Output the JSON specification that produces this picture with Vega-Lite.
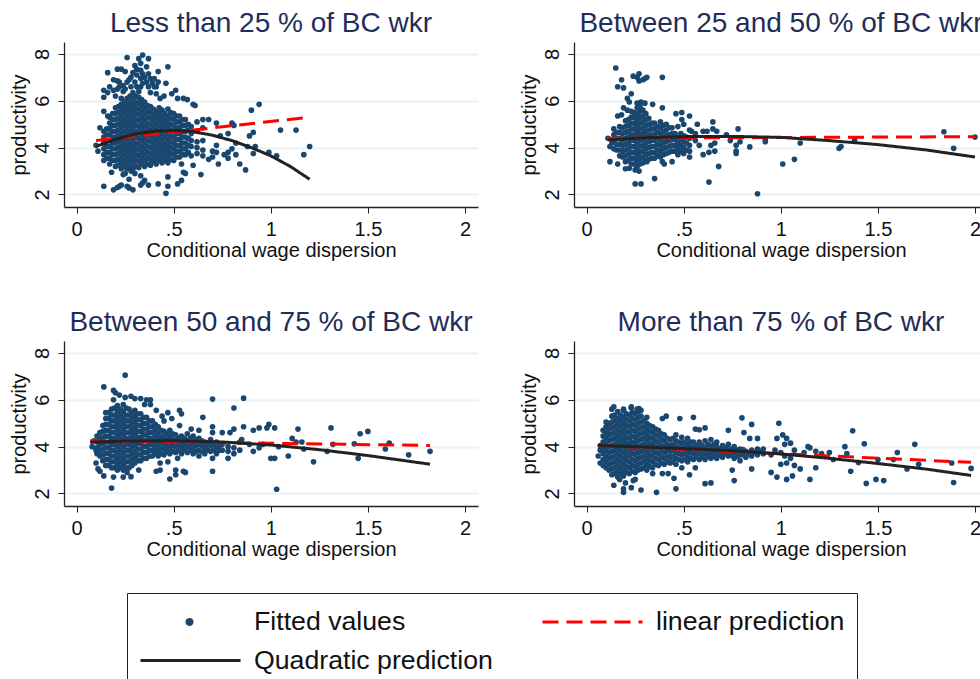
{"$schema":"https://vega.github.io/schema/vega-lite/v6.json","background":"white","padding":{"left":9,"top":10,"right":0,"bottom":0},
"config":{"font":"Liberation Sans","view":{"stroke":null},"title":{"fontSize":28,"fontWeight":"normal","color":"#1f2d5a","offset":4,"anchor":"middle"},
"axis":{"labelFont":"Liberation Sans","titleFont":"Liberation Sans","labelFontSize":20,"titleFontSize":20,"titleFontWeight":"normal","labelColor":"#111","titleColor":"#111","domainColor":"#222","tickColor":"#222","domainWidth":1.3,"tickWidth":1,"tickSize":6,"labelPadding":6},
"axisX":{"grid":false,"titlePadding":1,"labelFlush":false},
"axisY":{"grid":true,"gridColor":"#eaf2f3","gridWidth":2,"labelAngle":-90,"labelAlign":"center","labelBaseline":"bottom","titlePadding":3}},
"columns":2,"spacing":{"column":41,"row":49},
"resolve":{"scale":{"color":"shared"},"legend":{"color":"shared"}},
"datasets":{
"f1":[{"s":"linear prediction","x":0.1,"y":4.3},{"s":"linear prediction","x":1.2,"y":5.3},{"s":"Quadratic prediction","x":0.1,"y":4.05},{"s":"Quadratic prediction","x":0.2,"y":4.35},{"s":"Quadratic prediction","x":0.3,"y":4.58},{"s":"Quadratic prediction","x":0.4,"y":4.7},{"s":"Quadratic prediction","x":0.5,"y":4.74},{"s":"Quadratic prediction","x":0.6,"y":4.68},{"s":"Quadratic prediction","x":0.7,"y":4.53},{"s":"Quadratic prediction","x":0.8,"y":4.3},{"s":"Quadratic prediction","x":0.9,"y":4.0},{"s":"Quadratic prediction","x":1.0,"y":3.65},{"s":"Quadratic prediction","x":1.1,"y":3.2},{"s":"Quadratic prediction","x":1.2,"y":2.65}],
"f2":[{"s":"linear prediction","x":0.11,"y":4.4},{"s":"linear prediction","x":2,"y":4.47},{"s":"Quadratic prediction","x":0.11,"y":4.33},{"s":"Quadratic prediction","x":0.3,"y":4.42},{"s":"Quadratic prediction","x":0.5,"y":4.47},{"s":"Quadratic prediction","x":0.75,"y":4.48},{"s":"Quadratic prediction","x":1,"y":4.44},{"s":"Quadratic prediction","x":1.25,"y":4.3},{"s":"Quadratic prediction","x":1.5,"y":4.13},{"s":"Quadratic prediction","x":1.75,"y":3.9},{"s":"Quadratic prediction","x":2,"y":3.6}],
"f3":[{"s":"linear prediction","x":0.07,"y":4.25},{"s":"linear prediction","x":1.82,"y":4.05},{"s":"Quadratic prediction","x":0.07,"y":4.19},{"s":"Quadratic prediction","x":0.25,"y":4.24},{"s":"Quadratic prediction","x":0.5,"y":4.25},{"s":"Quadratic prediction","x":0.75,"y":4.2},{"s":"Quadratic prediction","x":1,"y":4.07},{"s":"Quadratic prediction","x":1.25,"y":3.87},{"s":"Quadratic prediction","x":1.5,"y":3.62},{"s":"Quadratic prediction","x":1.82,"y":3.25}],
"f4":[{"s":"linear prediction","x":0.06,"y":4.05},{"s":"linear prediction","x":1.98,"y":3.33},{"s":"Quadratic prediction","x":0.06,"y":4.05},{"s":"Quadratic prediction","x":0.5,"y":3.92},{"s":"Quadratic prediction","x":0.75,"y":3.82},{"s":"Quadratic prediction","x":1,"y":3.69},{"s":"Quadratic prediction","x":1.25,"y":3.5},{"s":"Quadratic prediction","x":1.5,"y":3.28},{"s":"Quadratic prediction","x":1.75,"y":3.04},{"s":"Quadratic prediction","x":1.98,"y":2.77}],
"p1":[{"x":0.1,"y":4.1},{"x":0.11,"y":3.85},{"x":0.14,"y":3.45},{"x":0.14,"y":3.7},{"x":0.14,"y":3.95},{"x":0.14,"y":4.2},{"x":0.14,"y":4.45},{"x":0.14,"y":4.7},{"x":0.17,"y":3.3},{"x":0.17,"y":3.55},{"x":0.17,"y":3.8},{"x":0.17,"y":4.05},{"x":0.17,"y":4.3},{"x":0.17,"y":4.55},{"x":0.17,"y":4.8},{"x":0.17,"y":5.05},{"x":0.17,"y":5.3},{"x":0.2,"y":3.2},{"x":0.2,"y":3.45},{"x":0.2,"y":3.7},{"x":0.2,"y":3.95},{"x":0.2,"y":4.2},{"x":0.2,"y":4.45},{"x":0.2,"y":4.7},{"x":0.2,"y":4.95},{"x":0.2,"y":5.2},{"x":0.2,"y":5.45},{"x":0.2,"y":5.7},{"x":0.23,"y":3.1},{"x":0.23,"y":3.35},{"x":0.23,"y":3.6},{"x":0.23,"y":3.85},{"x":0.23,"y":4.1},{"x":0.23,"y":4.35},{"x":0.23,"y":4.6},{"x":0.23,"y":4.85},{"x":0.23,"y":5.1},{"x":0.23,"y":5.35},{"x":0.23,"y":5.6},{"x":0.23,"y":5.85},{"x":0.26,"y":3.1},{"x":0.26,"y":3.35},{"x":0.26,"y":3.6},{"x":0.26,"y":3.85},{"x":0.26,"y":4.1},{"x":0.26,"y":4.35},{"x":0.26,"y":4.6},{"x":0.26,"y":4.85},{"x":0.26,"y":5.1},{"x":0.26,"y":5.35},{"x":0.26,"y":5.6},{"x":0.26,"y":5.85},{"x":0.26,"y":6.1},{"x":0.29,"y":3.1},{"x":0.29,"y":3.35},{"x":0.29,"y":3.6},{"x":0.29,"y":3.85},{"x":0.29,"y":4.1},{"x":0.29,"y":4.35},{"x":0.29,"y":4.6},{"x":0.29,"y":4.85},{"x":0.29,"y":5.1},{"x":0.29,"y":5.35},{"x":0.29,"y":5.6},{"x":0.29,"y":5.85},{"x":0.29,"y":6.1},{"x":0.29,"y":6.35},{"x":0.32,"y":3.15},{"x":0.32,"y":3.4},{"x":0.32,"y":3.65},{"x":0.32,"y":3.9},{"x":0.32,"y":4.15},{"x":0.32,"y":4.4},{"x":0.32,"y":4.65},{"x":0.32,"y":4.9},{"x":0.32,"y":5.15},{"x":0.32,"y":5.4},{"x":0.32,"y":5.65},{"x":0.32,"y":5.9},{"x":0.32,"y":6.15},{"x":0.32,"y":6.4},{"x":0.35,"y":3.2},{"x":0.35,"y":3.45},{"x":0.35,"y":3.7},{"x":0.35,"y":3.95},{"x":0.35,"y":4.2},{"x":0.35,"y":4.45},{"x":0.35,"y":4.7},{"x":0.35,"y":4.95},{"x":0.35,"y":5.2},{"x":0.35,"y":5.45},{"x":0.35,"y":5.7},{"x":0.35,"y":5.95},{"x":0.38,"y":3.25},{"x":0.38,"y":3.5},{"x":0.38,"y":3.75},{"x":0.38,"y":4},{"x":0.38,"y":4.25},{"x":0.38,"y":4.5},{"x":0.38,"y":4.75},{"x":0.38,"y":5},{"x":0.38,"y":5.25},{"x":0.38,"y":5.5},{"x":0.38,"y":5.75},{"x":0.41,"y":3.3},{"x":0.41,"y":3.55},{"x":0.41,"y":3.8},{"x":0.41,"y":4.05},{"x":0.41,"y":4.3},{"x":0.41,"y":4.55},{"x":0.41,"y":4.8},{"x":0.41,"y":5.05},{"x":0.41,"y":5.3},{"x":0.41,"y":5.55},{"x":0.44,"y":3.35},{"x":0.44,"y":3.6},{"x":0.44,"y":3.85},{"x":0.44,"y":4.1},{"x":0.44,"y":4.35},{"x":0.44,"y":4.6},{"x":0.44,"y":4.85},{"x":0.44,"y":5.1},{"x":0.44,"y":5.35},{"x":0.44,"y":5.6},{"x":0.47,"y":3.35},{"x":0.47,"y":3.6},{"x":0.47,"y":3.85},{"x":0.47,"y":4.1},{"x":0.47,"y":4.35},{"x":0.47,"y":4.6},{"x":0.47,"y":4.85},{"x":0.47,"y":5.1},{"x":0.47,"y":5.35},{"x":0.47,"y":5.65},{"x":0.5,"y":3.45},{"x":0.5,"y":3.7},{"x":0.5,"y":3.95},{"x":0.5,"y":4.2},{"x":0.5,"y":4.45},{"x":0.5,"y":4.7},{"x":0.5,"y":4.95},{"x":0.5,"y":5.2},{"x":0.5,"y":5.45},{"x":0.53,"y":3.6},{"x":0.53,"y":3.85},{"x":0.53,"y":4.1},{"x":0.53,"y":4.35},{"x":0.53,"y":4.6},{"x":0.53,"y":4.85},{"x":0.53,"y":5.1},{"x":0.53,"y":5.35},{"x":0.56,"y":3.7},{"x":0.56,"y":3.95},{"x":0.56,"y":4.2},{"x":0.56,"y":4.45},{"x":0.56,"y":4.7},{"x":0.56,"y":4.95},{"x":0.56,"y":5.2},{"x":0.59,"y":3.65},{"x":0.59,"y":4.05},{"x":0.59,"y":4.3},{"x":0.59,"y":4.6},{"x":0.59,"y":4.9},{"x":0.62,"y":3.75},{"x":0.62,"y":4.0},{"x":0.62,"y":4.25},{"x":0.62,"y":4.7},{"x":0.62,"y":5.1},{"x":0.65,"y":3.65},{"x":0.65,"y":3.9},{"x":0.65,"y":4.3},{"x":0.65,"y":4.85},{"x":0.65,"y":5.2},
{"x":0.155,"y":3.55},{"x":0.155,"y":3.8},{"x":0.155,"y":4.05},{"x":0.155,"y":4.3},{"x":0.155,"y":4.55},{"x":0.155,"y":4.8},{"x":0.185,"y":3.45},{"x":0.185,"y":3.7},{"x":0.185,"y":3.95},{"x":0.185,"y":4.2},{"x":0.185,"y":4.45},{"x":0.185,"y":4.7},{"x":0.185,"y":4.95},{"x":0.185,"y":5.2},{"x":0.185,"y":5.45},{"x":0.215,"y":3.25},{"x":0.215,"y":3.5},{"x":0.215,"y":3.75},{"x":0.215,"y":4},{"x":0.215,"y":4.25},{"x":0.215,"y":4.5},{"x":0.215,"y":4.75},{"x":0.215,"y":5},{"x":0.215,"y":5.25},{"x":0.215,"y":5.5},{"x":0.215,"y":5.75},{"x":0.245,"y":3.2},{"x":0.245,"y":3.45},{"x":0.245,"y":3.7},{"x":0.245,"y":3.95},{"x":0.245,"y":4.2},{"x":0.245,"y":4.45},{"x":0.245,"y":4.7},{"x":0.245,"y":4.95},{"x":0.245,"y":5.2},{"x":0.245,"y":5.45},{"x":0.245,"y":5.7},{"x":0.245,"y":5.95},{"x":0.275,"y":3.2},{"x":0.275,"y":3.45},{"x":0.275,"y":3.7},{"x":0.275,"y":3.95},{"x":0.275,"y":4.2},{"x":0.275,"y":4.45},{"x":0.275,"y":4.7},{"x":0.275,"y":4.95},{"x":0.275,"y":5.2},{"x":0.275,"y":5.45},{"x":0.275,"y":5.7},{"x":0.275,"y":5.95},{"x":0.275,"y":6.2},{"x":0.305,"y":3.2},{"x":0.305,"y":3.45},{"x":0.305,"y":3.7},{"x":0.305,"y":3.95},{"x":0.305,"y":4.2},{"x":0.305,"y":4.45},{"x":0.305,"y":4.7},{"x":0.305,"y":4.95},{"x":0.305,"y":5.2},{"x":0.305,"y":5.45},{"x":0.305,"y":5.7},{"x":0.305,"y":5.95},{"x":0.305,"y":6.2},{"x":0.335,"y":3.3},{"x":0.335,"y":3.55},{"x":0.335,"y":3.8},{"x":0.335,"y":4.05},{"x":0.335,"y":4.3},{"x":0.335,"y":4.55},{"x":0.335,"y":4.8},{"x":0.335,"y":5.05},{"x":0.335,"y":5.3},{"x":0.335,"y":5.55},{"x":0.335,"y":5.8},{"x":0.335,"y":6.05},{"x":0.365,"y":3.3},{"x":0.365,"y":3.55},{"x":0.365,"y":3.8},{"x":0.365,"y":4.05},{"x":0.365,"y":4.3},{"x":0.365,"y":4.55},{"x":0.365,"y":4.8},{"x":0.365,"y":5.05},{"x":0.365,"y":5.3},{"x":0.365,"y":5.55},{"x":0.365,"y":5.8},{"x":0.395,"y":3.4},{"x":0.395,"y":3.65},{"x":0.395,"y":3.9},{"x":0.395,"y":4.15},{"x":0.395,"y":4.4},{"x":0.395,"y":4.65},{"x":0.395,"y":4.9},{"x":0.395,"y":5.15},{"x":0.395,"y":5.4},{"x":0.395,"y":5.65},{"x":0.425,"y":3.45},{"x":0.425,"y":3.7},{"x":0.425,"y":3.95},{"x":0.425,"y":4.2},{"x":0.425,"y":4.45},{"x":0.425,"y":4.7},{"x":0.425,"y":4.95},{"x":0.425,"y":5.2},{"x":0.425,"y":5.45},{"x":0.425,"y":5.7},{"x":0.455,"y":3.45},{"x":0.455,"y":3.7},{"x":0.455,"y":3.95},{"x":0.455,"y":4.2},{"x":0.455,"y":4.45},{"x":0.455,"y":4.7},{"x":0.455,"y":4.95},{"x":0.455,"y":5.2},{"x":0.455,"y":5.45},{"x":0.485,"y":3.5},{"x":0.485,"y":3.75},{"x":0.485,"y":4},{"x":0.485,"y":4.25},{"x":0.485,"y":4.5},{"x":0.485,"y":4.75},{"x":0.485,"y":5},{"x":0.485,"y":5.25},{"x":0.485,"y":5.5},{"x":0.515,"y":3.6},{"x":0.515,"y":3.85},{"x":0.515,"y":4.1},{"x":0.515,"y":4.35},{"x":0.515,"y":4.6},{"x":0.515,"y":4.85},{"x":0.515,"y":5.1},{"x":0.515,"y":5.35},{"x":0.545,"y":3.7},{"x":0.545,"y":3.95},{"x":0.545,"y":4.2},{"x":0.545,"y":4.45},{"x":0.545,"y":4.7},{"x":0.545,"y":4.95},{"x":0.545,"y":5.2},{"x":0.575,"y":3.8},{"x":0.575,"y":4.1},{"x":0.575,"y":4.4},{"x":0.575,"y":4.75},{"x":0.575,"y":5},
{"x":0.22,"y":6.8},{"x":0.24,"y":6.65},{"x":0.27,"y":6.9},{"x":0.29,"y":7.2},{"x":0.31,"y":6.6},{"x":0.33,"y":6.95},{"x":0.36,"y":6.8},{"x":0.37,"y":7.15},{"x":0.39,"y":6.75},{"x":0.41,"y":6.6},{"x":0.25,"y":6.5},{"x":0.21,"y":6.5},{"x":0.19,"y":6.45},{"x":0.31,"y":7.35},{"x":0.34,"y":7.15},{"x":0.34,"y":7.95},{"x":0.37,"y":7.8},{"x":0.26,"y":7.85},{"x":0.32,"y":7.8},{"x":0.33,"y":7.6},{"x":0.3,"y":7.5},{"x":0.36,"y":7.45},{"x":0.47,"y":7.45},{"x":0.33,"y":7.3},{"x":0.21,"y":7.35},{"x":0.23,"y":7.35},{"x":0.16,"y":7.2},{"x":0.25,"y":7.25},{"x":0.42,"y":7.25},{"x":0.31,"y":7.1},{"x":0.28,"y":7},{"x":0.35,"y":7},{"x":0.38,"y":6.95},{"x":0.4,"y":6.95},{"x":0.19,"y":6.9},{"x":0.21,"y":6.85},{"x":0.26,"y":6.8},{"x":0.3,"y":6.8},{"x":0.34,"y":6.75},{"x":0.42,"y":6.8},{"x":0.46,"y":6.75},{"x":0.17,"y":6.6},{"x":0.22,"y":6.6},{"x":0.28,"y":6.6},{"x":0.33,"y":6.6},{"x":0.37,"y":6.6},{"x":0.4,"y":6.6},{"x":0.14,"y":6.45},{"x":0.16,"y":6.35},{"x":0.24,"y":6.4},{"x":0.38,"y":6.35},{"x":0.41,"y":6.3},{"x":0.45,"y":6.2},{"x":0.49,"y":6.3},{"x":0.51,"y":6.45},{"x":0.14,"y":6.15},{"x":0.2,"y":6.2},{"x":0.23,"y":6.1},{"x":0.43,"y":6.1},{"x":0.52,"y":6.1},{"x":0.55,"y":6.1},{"x":0.57,"y":6.05},{"x":0.6,"y":5.85},{"x":0.61,"y":5.8},{"x":0.14,"y":5.55},{"x":0.16,"y":5.35},{"x":0.12,"y":4.85},{"x":0.18,"y":2.95},{"x":0.19,"y":2.2},{"x":0.14,"y":2.35},{"x":0.21,"y":2.3},{"x":0.22,"y":2.35},{"x":0.23,"y":2.4},{"x":0.26,"y":2.35},{"x":0.27,"y":2.28},{"x":0.29,"y":2.2},{"x":0.24,"y":2.85},{"x":0.25,"y":2.9},{"x":0.28,"y":3},{"x":0.27,"y":2.65},{"x":0.3,"y":2.9},{"x":0.33,"y":2.8},{"x":0.34,"y":2.5},{"x":0.33,"y":2.4},{"x":0.35,"y":2.6},{"x":0.37,"y":2.4},{"x":0.42,"y":2.45},{"x":0.46,"y":2.05},{"x":0.47,"y":2.35},{"x":0.47,"y":2.75},{"x":0.52,"y":2.45},{"x":0.54,"y":2.6},{"x":0.55,"y":2.95},{"x":0.56,"y":2.9},{"x":0.54,"y":3.3},{"x":0.6,"y":3.25},{"x":0.64,"y":2.85},{"x":0.68,"y":3.5},{"x":0.7,"y":3.6},{"x":0.73,"y":3.3},{"x":0.7,"y":3.85},{"x":0.72,"y":3.8},{"x":0.72,"y":4.1},{"x":0.76,"y":3.7},{"x":0.78,"y":3.55},{"x":0.78,"y":3.8},{"x":0.8,"y":3.95},{"x":0.82,"y":3.7},{"x":0.84,"y":3.3},{"x":0.87,"y":3.05},{"x":0.74,"y":4.5},{"x":0.78,"y":4.6},{"x":0.82,"y":4.2},{"x":0.88,"y":4.05},{"x":0.89,"y":4.5},{"x":0.91,"y":3.75},{"x":0.92,"y":4.05},{"x":0.91,"y":4.65},{"x":0.9,"y":5.6},{"x":0.94,"y":5.85},{"x":0.68,"y":5.2},{"x":0.72,"y":5.05},{"x":0.8,"y":5.05},{"x":0.81,"y":4.95},{"x":0.99,"y":3.8},{"x":1.03,"y":3.65},{"x":1.05,"y":4.75},{"x":1.13,"y":4.75},{"x":1.17,"y":3.7},{"x":1.2,"y":4.05}],
"p2":[{"x":0.11,"y":4.4},{"x":0.12,"y":4.05},{"x":0.13,"y":4.2},{"x":0.14,"y":3.95},{"x":0.14,"y":4.3},{"x":0.14,"y":4.55},{"x":0.14,"y":4.8},{"x":0.17,"y":3.65},{"x":0.17,"y":3.9},{"x":0.17,"y":4.15},{"x":0.17,"y":4.4},{"x":0.17,"y":4.65},{"x":0.17,"y":4.9},{"x":0.2,"y":3.4},{"x":0.2,"y":3.65},{"x":0.2,"y":3.9},{"x":0.2,"y":4.15},{"x":0.2,"y":4.4},{"x":0.2,"y":4.65},{"x":0.2,"y":4.9},{"x":0.2,"y":5.15},{"x":0.23,"y":3.3},{"x":0.23,"y":3.55},{"x":0.23,"y":3.8},{"x":0.23,"y":4.05},{"x":0.23,"y":4.3},{"x":0.23,"y":4.55},{"x":0.23,"y":4.8},{"x":0.23,"y":5.05},{"x":0.23,"y":5.3},{"x":0.23,"y":5.55},{"x":0.26,"y":3.2},{"x":0.26,"y":3.45},{"x":0.26,"y":3.7},{"x":0.26,"y":3.95},{"x":0.26,"y":4.2},{"x":0.26,"y":4.45},{"x":0.26,"y":4.7},{"x":0.26,"y":4.95},{"x":0.26,"y":5.2},{"x":0.26,"y":5.45},{"x":0.26,"y":5.7},{"x":0.29,"y":3.35},{"x":0.29,"y":3.6},{"x":0.29,"y":3.85},{"x":0.29,"y":4.1},{"x":0.29,"y":4.35},{"x":0.29,"y":4.6},{"x":0.29,"y":4.85},{"x":0.29,"y":5.1},{"x":0.29,"y":5.35},{"x":0.29,"y":5.6},{"x":0.32,"y":3.5},{"x":0.32,"y":3.75},{"x":0.32,"y":4},{"x":0.32,"y":4.25},{"x":0.32,"y":4.5},{"x":0.32,"y":4.75},{"x":0.32,"y":5},{"x":0.32,"y":5.25},{"x":0.35,"y":3.55},{"x":0.35,"y":3.8},{"x":0.35,"y":4.05},{"x":0.35,"y":4.3},{"x":0.35,"y":4.55},{"x":0.35,"y":4.8},{"x":0.35,"y":5.05},{"x":0.38,"y":3.6},{"x":0.38,"y":3.85},{"x":0.38,"y":4.1},{"x":0.38,"y":4.35},{"x":0.38,"y":4.6},{"x":0.38,"y":4.85},{"x":0.38,"y":5.1},{"x":0.41,"y":3.75},{"x":0.41,"y":4},{"x":0.41,"y":4.25},{"x":0.41,"y":4.5},{"x":0.41,"y":4.75},{"x":0.41,"y":5},{"x":0.44,"y":3.85},{"x":0.44,"y":4.1},{"x":0.44,"y":4.35},{"x":0.44,"y":4.6},{"x":0.44,"y":4.85},{"x":0.47,"y":3.7},{"x":0.47,"y":3.95},{"x":0.47,"y":4.2},{"x":0.47,"y":4.45},{"x":0.47,"y":4.9},{"x":0.5,"y":3.75},{"x":0.5,"y":4},{"x":0.5,"y":4.25},{"x":0.5,"y":4.5},{"x":0.53,"y":3.85},{"x":0.53,"y":4.1},{"x":0.53,"y":4.4},{"x":0.53,"y":4.75},
{"x":0.155,"y":3.9},{"x":0.155,"y":4.15},{"x":0.155,"y":4.4},{"x":0.155,"y":4.65},{"x":0.185,"y":3.6},{"x":0.185,"y":3.85},{"x":0.185,"y":4.1},{"x":0.185,"y":4.35},{"x":0.185,"y":4.6},{"x":0.185,"y":4.85},{"x":0.215,"y":3.45},{"x":0.215,"y":3.7},{"x":0.215,"y":3.95},{"x":0.215,"y":4.2},{"x":0.215,"y":4.45},{"x":0.215,"y":4.7},{"x":0.215,"y":4.95},{"x":0.215,"y":5.2},{"x":0.245,"y":3.3},{"x":0.245,"y":3.55},{"x":0.245,"y":3.8},{"x":0.245,"y":4.05},{"x":0.245,"y":4.3},{"x":0.245,"y":4.55},{"x":0.245,"y":4.8},{"x":0.245,"y":5.05},{"x":0.245,"y":5.3},{"x":0.245,"y":5.5},{"x":0.275,"y":3.3},{"x":0.275,"y":3.55},{"x":0.275,"y":3.8},{"x":0.275,"y":4.05},{"x":0.275,"y":4.3},{"x":0.275,"y":4.55},{"x":0.275,"y":4.8},{"x":0.275,"y":5.05},{"x":0.275,"y":5.3},{"x":0.275,"y":5.55},{"x":0.275,"y":5.75},{"x":0.305,"y":3.45},{"x":0.305,"y":3.7},{"x":0.305,"y":3.95},{"x":0.305,"y":4.2},{"x":0.305,"y":4.45},{"x":0.305,"y":4.7},{"x":0.305,"y":4.95},{"x":0.305,"y":5.2},{"x":0.305,"y":5.45},{"x":0.335,"y":3.55},{"x":0.335,"y":3.8},{"x":0.335,"y":4.05},{"x":0.335,"y":4.3},{"x":0.335,"y":4.55},{"x":0.335,"y":4.8},{"x":0.335,"y":5.05},{"x":0.365,"y":3.65},{"x":0.365,"y":3.9},{"x":0.365,"y":4.15},{"x":0.365,"y":4.4},{"x":0.365,"y":4.65},{"x":0.365,"y":4.9},{"x":0.395,"y":3.7},{"x":0.395,"y":3.95},{"x":0.395,"y":4.2},{"x":0.395,"y":4.45},{"x":0.395,"y":4.7},{"x":0.395,"y":4.95},{"x":0.425,"y":3.8},{"x":0.425,"y":4.05},{"x":0.425,"y":4.3},{"x":0.425,"y":4.55},{"x":0.425,"y":4.85},{"x":0.455,"y":3.85},{"x":0.455,"y":4.1},{"x":0.455,"y":4.35},{"x":0.455,"y":4.6},{"x":0.485,"y":3.85},{"x":0.485,"y":4.1},{"x":0.485,"y":4.35},{"x":0.485,"y":4.6},{"x":0.515,"y":3.9},{"x":0.515,"y":4.2},{"x":0.515,"y":4.45},
{"x":0.15,"y":7.4},{"x":0.24,"y":7.05},{"x":0.27,"y":7.15},{"x":0.26,"y":7},{"x":0.27,"y":6.85},{"x":0.29,"y":6.9},{"x":0.3,"y":6.95},{"x":0.31,"y":7},{"x":0.39,"y":7},{"x":0.18,"y":6.9},{"x":0.16,"y":6.6},{"x":0.19,"y":6.55},{"x":0.23,"y":6.3},{"x":0.21,"y":6.1},{"x":0.22,"y":5.95},{"x":0.26,"y":5.9},{"x":0.28,"y":5.95},{"x":0.3,"y":5.9},{"x":0.34,"y":5.85},{"x":0.39,"y":5.7},{"x":0.19,"y":5.7},{"x":0.21,"y":5.6},{"x":0.16,"y":5.35},{"x":0.18,"y":5.4},{"x":0.46,"y":5.45},{"x":0.49,"y":5.5},{"x":0.49,"y":5.2},{"x":0.53,"y":5.35},{"x":0.5,"y":5.0},{"x":0.57,"y":5},{"x":0.65,"y":5.1},{"x":0.65,"y":4.8},{"x":0.67,"y":4.7},{"x":0.54,"y":4.7},{"x":0.56,"y":4.6},{"x":0.6,"y":4.7},{"x":0.62,"y":4.7},{"x":0.56,"y":4.3},{"x":0.58,"y":4.1},{"x":0.6,"y":3.7},{"x":0.63,"y":3.8},{"x":0.64,"y":4.1},{"x":0.66,"y":3.85},{"x":0.66,"y":4.2},{"x":0.53,"y":3.6},{"x":0.68,"y":3.2},{"x":0.72,"y":4.55},{"x":0.74,"y":4.3},{"x":0.77,"y":4.1},{"x":0.77,"y":3.85},{"x":0.77,"y":3.75},{"x":0.78,"y":4.8},{"x":0.79,"y":4.25},{"x":0.84,"y":4.03},{"x":0.92,"y":4.25},{"x":0.92,"y":4.35},{"x":1.01,"y":3.3},{"x":1.07,"y":3.5},{"x":1.1,"y":4.2},{"x":1.3,"y":3.97},{"x":1.31,"y":4.05},{"x":1.38,"y":4.33},{"x":1.84,"y":4.68},{"x":1.89,"y":3.97},{"x":2,"y":4.45},{"x":0.88,"y":2.03},{"x":0.63,"y":2.53},{"x":0.35,"y":2.68},{"x":0.25,"y":2.45},{"x":0.28,"y":2.45},{"x":0.12,"y":3.4},{"x":0.16,"y":3.3},{"x":0.2,"y":3.1},{"x":0.22,"y":3.12},{"x":0.25,"y":3.05},{"x":0.27,"y":3},{"x":0.31,"y":3.4},{"x":0.39,"y":3.4},{"x":0.4,"y":3.3},{"x":0.44,"y":3.4}],
"p3":[{"x":0.08,"y":4},{"x":0.09,"y":4.25},{"x":0.1,"y":3.85},{"x":0.12,"y":3.6},{"x":0.12,"y":3.85},{"x":0.12,"y":4.1},{"x":0.12,"y":4.35},{"x":0.12,"y":4.6},{"x":0.15,"y":3.2},{"x":0.15,"y":3.45},{"x":0.15,"y":3.7},{"x":0.15,"y":3.95},{"x":0.15,"y":4.2},{"x":0.15,"y":4.45},{"x":0.15,"y":4.7},{"x":0.15,"y":4.95},{"x":0.15,"y":5.2},{"x":0.15,"y":5.45},{"x":0.18,"y":3.1},{"x":0.18,"y":3.35},{"x":0.18,"y":3.6},{"x":0.18,"y":3.85},{"x":0.18,"y":4.1},{"x":0.18,"y":4.35},{"x":0.18,"y":4.6},{"x":0.18,"y":4.85},{"x":0.18,"y":5.1},{"x":0.18,"y":5.35},{"x":0.18,"y":5.6},{"x":0.21,"y":3},{"x":0.21,"y":3.25},{"x":0.21,"y":3.5},{"x":0.21,"y":3.75},{"x":0.21,"y":4},{"x":0.21,"y":4.25},{"x":0.21,"y":4.5},{"x":0.21,"y":4.75},{"x":0.21,"y":5},{"x":0.21,"y":5.25},{"x":0.21,"y":5.5},{"x":0.21,"y":5.75},{"x":0.24,"y":3},{"x":0.24,"y":3.25},{"x":0.24,"y":3.5},{"x":0.24,"y":3.75},{"x":0.24,"y":4},{"x":0.24,"y":4.25},{"x":0.24,"y":4.5},{"x":0.24,"y":4.75},{"x":0.24,"y":5},{"x":0.24,"y":5.25},{"x":0.24,"y":5.5},{"x":0.24,"y":5.8},{"x":0.27,"y":3.1},{"x":0.27,"y":3.35},{"x":0.27,"y":3.6},{"x":0.27,"y":3.85},{"x":0.27,"y":4.1},{"x":0.27,"y":4.35},{"x":0.27,"y":4.6},{"x":0.27,"y":4.85},{"x":0.27,"y":5.1},{"x":0.27,"y":5.35},{"x":0.27,"y":5.6},{"x":0.3,"y":3.3},{"x":0.3,"y":3.55},{"x":0.3,"y":3.8},{"x":0.3,"y":4.05},{"x":0.3,"y":4.3},{"x":0.3,"y":4.55},{"x":0.3,"y":4.8},{"x":0.3,"y":5.05},{"x":0.3,"y":5.3},{"x":0.3,"y":5.55},{"x":0.33,"y":3.4},{"x":0.33,"y":3.65},{"x":0.33,"y":3.9},{"x":0.33,"y":4.15},{"x":0.33,"y":4.4},{"x":0.33,"y":4.65},{"x":0.33,"y":4.9},{"x":0.33,"y":5.15},{"x":0.33,"y":5.4},{"x":0.36,"y":3.5},{"x":0.36,"y":3.75},{"x":0.36,"y":4},{"x":0.36,"y":4.25},{"x":0.36,"y":4.5},{"x":0.36,"y":4.75},{"x":0.36,"y":5},{"x":0.36,"y":5.25},{"x":0.39,"y":3.6},{"x":0.39,"y":3.85},{"x":0.39,"y":4.1},{"x":0.39,"y":4.35},{"x":0.39,"y":4.6},{"x":0.39,"y":4.85},{"x":0.39,"y":5.1},{"x":0.42,"y":3.6},{"x":0.42,"y":3.85},{"x":0.42,"y":4.1},{"x":0.42,"y":4.35},{"x":0.42,"y":4.6},{"x":0.42,"y":4.85},{"x":0.45,"y":3.65},{"x":0.45,"y":3.9},{"x":0.45,"y":4.15},{"x":0.45,"y":4.4},{"x":0.45,"y":4.65},{"x":0.48,"y":3.7},{"x":0.48,"y":3.95},{"x":0.48,"y":4.2},{"x":0.48,"y":4.45},{"x":0.48,"y":4.7},{"x":0.51,"y":3.75},{"x":0.51,"y":4},{"x":0.51,"y":4.25},{"x":0.51,"y":4.5},{"x":0.54,"y":3.7},{"x":0.54,"y":3.95},{"x":0.54,"y":4.2},{"x":0.54,"y":4.45},{"x":0.57,"y":3.75},{"x":0.57,"y":4},{"x":0.57,"y":4.25},{"x":0.57,"y":4.55},{"x":0.6,"y":3.7},{"x":0.6,"y":3.95},{"x":0.6,"y":4.2},{"x":0.6,"y":4.45},{"x":0.63,"y":3.6},{"x":0.63,"y":3.85},{"x":0.63,"y":4.1},{"x":0.63,"y":4.35},{"x":0.66,"y":3.7},{"x":0.66,"y":3.95},{"x":0.66,"y":4.2},{"x":0.69,"y":3.8},{"x":0.69,"y":4.05},{"x":0.69,"y":4.3},{"x":0.72,"y":3.7},{"x":0.72,"y":3.95},{"x":0.72,"y":4.2},{"x":0.75,"y":3.85},{"x":0.75,"y":4.1},{"x":0.78,"y":3.8},{"x":0.78,"y":4},{"x":0.81,"y":3.7},{"x":0.81,"y":3.95},{"x":0.84,"y":3.85},{"x":0.84,"y":4.2},
{"x":0.105,"y":3.7},{"x":0.105,"y":3.95},{"x":0.105,"y":4.2},{"x":0.105,"y":4.45},{"x":0.135,"y":3.4},{"x":0.135,"y":3.65},{"x":0.135,"y":3.9},{"x":0.135,"y":4.15},{"x":0.135,"y":4.4},{"x":0.135,"y":4.65},{"x":0.135,"y":4.9},{"x":0.165,"y":3.2},{"x":0.165,"y":3.45},{"x":0.165,"y":3.7},{"x":0.165,"y":3.95},{"x":0.165,"y":4.2},{"x":0.165,"y":4.45},{"x":0.165,"y":4.7},{"x":0.165,"y":4.95},{"x":0.165,"y":5.2},{"x":0.165,"y":5.45},{"x":0.195,"y":3.1},{"x":0.195,"y":3.35},{"x":0.195,"y":3.6},{"x":0.195,"y":3.85},{"x":0.195,"y":4.1},{"x":0.195,"y":4.35},{"x":0.195,"y":4.6},{"x":0.195,"y":4.85},{"x":0.195,"y":5.1},{"x":0.195,"y":5.35},{"x":0.195,"y":5.65},{"x":0.225,"y":3.1},{"x":0.225,"y":3.35},{"x":0.225,"y":3.6},{"x":0.225,"y":3.85},{"x":0.225,"y":4.1},{"x":0.225,"y":4.35},{"x":0.225,"y":4.6},{"x":0.225,"y":4.85},{"x":0.225,"y":5.1},{"x":0.225,"y":5.35},{"x":0.225,"y":5.6},{"x":0.255,"y":3.1},{"x":0.255,"y":3.35},{"x":0.255,"y":3.6},{"x":0.255,"y":3.85},{"x":0.255,"y":4.1},{"x":0.255,"y":4.35},{"x":0.255,"y":4.6},{"x":0.255,"y":4.85},{"x":0.255,"y":5.1},{"x":0.255,"y":5.35},{"x":0.255,"y":5.65},{"x":0.285,"y":3.2},{"x":0.285,"y":3.45},{"x":0.285,"y":3.7},{"x":0.285,"y":3.95},{"x":0.285,"y":4.2},{"x":0.285,"y":4.45},{"x":0.285,"y":4.7},{"x":0.285,"y":4.95},{"x":0.285,"y":5.2},{"x":0.285,"y":5.45},{"x":0.315,"y":3.4},{"x":0.315,"y":3.65},{"x":0.315,"y":3.9},{"x":0.315,"y":4.15},{"x":0.315,"y":4.4},{"x":0.315,"y":4.65},{"x":0.315,"y":4.9},{"x":0.315,"y":5.15},{"x":0.315,"y":5.4},{"x":0.345,"y":3.5},{"x":0.345,"y":3.75},{"x":0.345,"y":4},{"x":0.345,"y":4.25},{"x":0.345,"y":4.5},{"x":0.345,"y":4.75},{"x":0.345,"y":5},{"x":0.345,"y":5.25},{"x":0.375,"y":3.6},{"x":0.375,"y":3.85},{"x":0.375,"y":4.1},{"x":0.375,"y":4.35},{"x":0.375,"y":4.6},{"x":0.375,"y":4.85},{"x":0.375,"y":5.1},{"x":0.405,"y":3.7},{"x":0.405,"y":3.95},{"x":0.405,"y":4.2},{"x":0.405,"y":4.45},{"x":0.405,"y":4.7},{"x":0.405,"y":4.95},{"x":0.435,"y":3.7},{"x":0.435,"y":3.95},{"x":0.435,"y":4.2},{"x":0.435,"y":4.45},{"x":0.435,"y":4.7},{"x":0.465,"y":3.8},{"x":0.465,"y":4.05},{"x":0.465,"y":4.3},{"x":0.465,"y":4.55},{"x":0.495,"y":3.8},{"x":0.495,"y":4.05},{"x":0.495,"y":4.3},{"x":0.495,"y":4.55},{"x":0.525,"y":3.85},{"x":0.525,"y":4.1},{"x":0.525,"y":4.35},{"x":0.555,"y":3.85},{"x":0.555,"y":4.1},{"x":0.555,"y":4.35},{"x":0.585,"y":3.85},{"x":0.585,"y":4.1},{"x":0.585,"y":4.35},{"x":0.615,"y":3.8},{"x":0.615,"y":4.05},{"x":0.615,"y":4.3},{"x":0.645,"y":3.8},{"x":0.645,"y":4.05},{"x":0.645,"y":4.25},{"x":0.675,"y":3.85},{"x":0.675,"y":4.1},{"x":0.705,"y":3.85},{"x":0.705,"y":4.1},{"x":0.735,"y":3.85},{"x":0.735,"y":4.05},
{"x":0.25,"y":7.05},{"x":0.14,"y":6.55},{"x":0.19,"y":6.4},{"x":0.2,"y":6.3},{"x":0.22,"y":6.2},{"x":0.25,"y":6.1},{"x":0.28,"y":6.15},{"x":0.3,"y":6.05},{"x":0.33,"y":6.05},{"x":0.36,"y":6},{"x":0.38,"y":6},{"x":0.38,"y":5.8},{"x":0.35,"y":5.8},{"x":0.19,"y":6},{"x":0.41,"y":5.55},{"x":0.44,"y":5.3},{"x":0.47,"y":5.45},{"x":0.49,"y":5.2},{"x":0.53,"y":5.55},{"x":0.54,"y":5.4},{"x":0.45,"y":5.1},{"x":0.53,"y":4.9},{"x":0.59,"y":4.75},{"x":0.63,"y":4.7},{"x":0.65,"y":5.25},{"x":0.7,"y":6.03},{"x":0.86,"y":6.07},{"x":0.81,"y":5.65},{"x":0.7,"y":4.85},{"x":0.7,"y":4.6},{"x":0.75,"y":4.6},{"x":0.79,"y":4.6},{"x":0.81,"y":4.75},{"x":0.86,"y":4.85},{"x":0.85,"y":4.3},{"x":0.91,"y":4.7},{"x":0.94,"y":4.8},{"x":0.98,"y":4.8},{"x":0.99,"y":4.95},{"x":1.02,"y":4.8},{"x":0.89,"y":4.1},{"x":0.91,"y":3.8},{"x":0.94,"y":3.95},{"x":0.96,"y":4.1},{"x":1.0,"y":3.5},{"x":1.02,"y":3.5},{"x":1.04,"y":4},{"x":1.09,"y":3.6},{"x":1.11,"y":4.35},{"x":1.13,"y":4.2},{"x":1.14,"y":4.75},{"x":1.16,"y":4.2},{"x":1.17,"y":3.9},{"x":1.22,"y":3.35},{"x":1.29,"y":3.8},{"x":1.31,"y":4.8},{"x":1.32,"y":4.1},{"x":1.43,"y":4.12},{"x":1.45,"y":3.5},{"x":1.46,"y":4.55},{"x":1.5,"y":4.65},{"x":1.59,"y":3.9},{"x":1.61,"y":4.15},{"x":1.71,"y":3.65},{"x":1.82,"y":3.8},{"x":1.03,"y":2.18},{"x":0.18,"y":2.23},{"x":0.19,"y":2.7},{"x":0.24,"y":2.7},{"x":0.28,"y":2.72},{"x":0.14,"y":2.75},{"x":0.1,"y":3.3},{"x":0.11,"y":3.05},{"x":0.12,"y":2.95},{"x":0.26,"y":2.9},{"x":0.32,"y":3},{"x":0.41,"y":2.95},{"x":0.43,"y":3},{"x":0.43,"y":3.3},{"x":0.47,"y":3.35},{"x":0.48,"y":2.62},{"x":0.51,"y":2.8},{"x":0.51,"y":3},{"x":0.55,"y":2.95},{"x":0.56,"y":2.9},{"x":0.52,"y":3.5},{"x":0.7,"y":2.95},{"x":0.7,"y":3.5},{"x":0.78,"y":3.5}],
"p4":[{"x":0.06,"y":3.6},{"x":0.07,"y":3.85},{"x":0.07,"y":4.05},{"x":0.07,"y":3.3},{"x":0.1,"y":3.1},{"x":0.1,"y":3.35},{"x":0.1,"y":3.6},{"x":0.1,"y":3.85},{"x":0.1,"y":4.1},{"x":0.1,"y":4.35},{"x":0.1,"y":4.6},{"x":0.1,"y":4.85},{"x":0.1,"y":5.05},{"x":0.13,"y":2.8},{"x":0.13,"y":3.05},{"x":0.13,"y":3.3},{"x":0.13,"y":3.55},{"x":0.13,"y":3.8},{"x":0.13,"y":4.05},{"x":0.13,"y":4.3},{"x":0.13,"y":4.55},{"x":0.13,"y":4.8},{"x":0.13,"y":5.05},{"x":0.13,"y":5.3},{"x":0.13,"y":5.6},{"x":0.16,"y":2.7},{"x":0.16,"y":2.95},{"x":0.16,"y":3.2},{"x":0.16,"y":3.45},{"x":0.16,"y":3.7},{"x":0.16,"y":3.95},{"x":0.16,"y":4.2},{"x":0.16,"y":4.45},{"x":0.16,"y":4.7},{"x":0.16,"y":4.95},{"x":0.16,"y":5.2},{"x":0.16,"y":5.5},{"x":0.19,"y":2.75},{"x":0.19,"y":3},{"x":0.19,"y":3.25},{"x":0.19,"y":3.5},{"x":0.19,"y":3.75},{"x":0.19,"y":4},{"x":0.19,"y":4.25},{"x":0.19,"y":4.5},{"x":0.19,"y":4.75},{"x":0.19,"y":5},{"x":0.19,"y":5.25},{"x":0.19,"y":5.55},{"x":0.22,"y":2.85},{"x":0.22,"y":3.1},{"x":0.22,"y":3.35},{"x":0.22,"y":3.6},{"x":0.22,"y":3.85},{"x":0.22,"y":4.1},{"x":0.22,"y":4.35},{"x":0.22,"y":4.6},{"x":0.22,"y":4.85},{"x":0.22,"y":5.1},{"x":0.22,"y":5.35},{"x":0.23,"y":5.65},{"x":0.25,"y":2.9},{"x":0.25,"y":3.15},{"x":0.25,"y":3.4},{"x":0.25,"y":3.65},{"x":0.25,"y":3.9},{"x":0.25,"y":4.15},{"x":0.25,"y":4.4},{"x":0.25,"y":4.65},{"x":0.25,"y":4.9},{"x":0.25,"y":5.15},{"x":0.25,"y":5.4},{"x":0.26,"y":5.6},{"x":0.28,"y":3.05},{"x":0.28,"y":3.3},{"x":0.28,"y":3.55},{"x":0.28,"y":3.8},{"x":0.28,"y":4.05},{"x":0.28,"y":4.3},{"x":0.28,"y":4.55},{"x":0.28,"y":4.8},{"x":0.28,"y":5.05},{"x":0.28,"y":5.3},{"x":0.28,"y":5.55},{"x":0.31,"y":3},{"x":0.31,"y":3.25},{"x":0.31,"y":3.5},{"x":0.31,"y":3.75},{"x":0.31,"y":4},{"x":0.31,"y":4.25},{"x":0.31,"y":4.5},{"x":0.31,"y":4.75},{"x":0.31,"y":5},{"x":0.31,"y":5.25},{"x":0.34,"y":3.1},{"x":0.34,"y":3.35},{"x":0.34,"y":3.6},{"x":0.34,"y":3.85},{"x":0.34,"y":4.1},{"x":0.34,"y":4.35},{"x":0.34,"y":4.6},{"x":0.34,"y":4.85},{"x":0.37,"y":3.2},{"x":0.37,"y":3.45},{"x":0.37,"y":3.7},{"x":0.37,"y":3.95},{"x":0.37,"y":4.2},{"x":0.37,"y":4.45},{"x":0.37,"y":4.7},{"x":0.4,"y":3.25},{"x":0.4,"y":3.5},{"x":0.4,"y":3.75},{"x":0.4,"y":4},{"x":0.4,"y":4.25},{"x":0.4,"y":4.5},{"x":0.43,"y":3.3},{"x":0.43,"y":3.55},{"x":0.43,"y":3.8},{"x":0.43,"y":4.05},{"x":0.43,"y":4.3},{"x":0.46,"y":3.25},{"x":0.46,"y":3.5},{"x":0.46,"y":3.75},{"x":0.46,"y":4},{"x":0.46,"y":4.25},{"x":0.46,"y":4.5},{"x":0.49,"y":3.4},{"x":0.49,"y":3.65},{"x":0.49,"y":3.9},{"x":0.49,"y":4.15},{"x":0.49,"y":4.4},{"x":0.52,"y":3.35},{"x":0.52,"y":3.6},{"x":0.52,"y":3.85},{"x":0.52,"y":4.1},{"x":0.52,"y":4.35},{"x":0.55,"y":3.45},{"x":0.55,"y":3.7},{"x":0.55,"y":3.95},{"x":0.55,"y":4.2},{"x":0.58,"y":3.45},{"x":0.58,"y":3.7},{"x":0.58,"y":3.95},{"x":0.58,"y":4.2},{"x":0.61,"y":3.45},{"x":0.61,"y":3.7},{"x":0.61,"y":3.95},{"x":0.61,"y":4.25},{"x":0.64,"y":3.5},{"x":0.64,"y":3.75},{"x":0.64,"y":4},{"x":0.64,"y":4.3},{"x":0.67,"y":3.5},{"x":0.67,"y":3.75},{"x":0.67,"y":4},{"x":0.67,"y":4.2},{"x":0.7,"y":3.55},{"x":0.7,"y":3.8},{"x":0.7,"y":4.05},{"x":0.73,"y":3.6},{"x":0.73,"y":3.85},{"x":0.73,"y":4.1},{"x":0.76,"y":3.5},{"x":0.76,"y":3.75},{"x":0.76,"y":4},{"x":0.79,"y":3.4},{"x":0.79,"y":3.65},{"x":0.79,"y":3.9},{"x":0.82,"y":3.55},{"x":0.82,"y":3.8},{"x":0.85,"y":3.6},{"x":0.85,"y":3.85},{"x":0.88,"y":3.65},{"x":0.88,"y":3.9},{"x":0.91,"y":3.7},{"x":0.91,"y":3.9},{"x":0.95,"y":3.65},{"x":0.97,"y":3.85},{"x":1,"y":3.75},{"x":1.02,"y":3.6},
{"x":0.085,"y":3.2},{"x":0.085,"y":3.45},{"x":0.085,"y":3.7},{"x":0.085,"y":3.95},{"x":0.085,"y":4.2},{"x":0.085,"y":4.45},{"x":0.085,"y":4.7},{"x":0.115,"y":3},{"x":0.115,"y":3.25},{"x":0.115,"y":3.5},{"x":0.115,"y":3.75},{"x":0.115,"y":4},{"x":0.115,"y":4.25},{"x":0.115,"y":4.5},{"x":0.115,"y":4.75},{"x":0.115,"y":5},{"x":0.145,"y":2.85},{"x":0.145,"y":3.1},{"x":0.145,"y":3.35},{"x":0.145,"y":3.6},{"x":0.145,"y":3.85},{"x":0.145,"y":4.1},{"x":0.145,"y":4.35},{"x":0.145,"y":4.6},{"x":0.145,"y":4.85},{"x":0.145,"y":5.1},{"x":0.145,"y":5.35},{"x":0.175,"y":2.85},{"x":0.175,"y":3.1},{"x":0.175,"y":3.35},{"x":0.175,"y":3.6},{"x":0.175,"y":3.85},{"x":0.175,"y":4.1},{"x":0.175,"y":4.35},{"x":0.175,"y":4.6},{"x":0.175,"y":4.85},{"x":0.175,"y":5.1},{"x":0.175,"y":5.35},{"x":0.205,"y":2.9},{"x":0.205,"y":3.15},{"x":0.205,"y":3.4},{"x":0.205,"y":3.65},{"x":0.205,"y":3.9},{"x":0.205,"y":4.15},{"x":0.205,"y":4.4},{"x":0.205,"y":4.65},{"x":0.205,"y":4.9},{"x":0.205,"y":5.15},{"x":0.205,"y":5.4},{"x":0.235,"y":2.95},{"x":0.235,"y":3.2},{"x":0.235,"y":3.45},{"x":0.235,"y":3.7},{"x":0.235,"y":3.95},{"x":0.235,"y":4.2},{"x":0.235,"y":4.45},{"x":0.235,"y":4.7},{"x":0.235,"y":4.95},{"x":0.235,"y":5.2},{"x":0.235,"y":5.45},{"x":0.265,"y":3},{"x":0.265,"y":3.25},{"x":0.265,"y":3.5},{"x":0.265,"y":3.75},{"x":0.265,"y":4},{"x":0.265,"y":4.25},{"x":0.265,"y":4.5},{"x":0.265,"y":4.75},{"x":0.265,"y":5},{"x":0.265,"y":5.25},{"x":0.265,"y":5.5},{"x":0.295,"y":3.1},{"x":0.295,"y":3.35},{"x":0.295,"y":3.6},{"x":0.295,"y":3.85},{"x":0.295,"y":4.1},{"x":0.295,"y":4.35},{"x":0.295,"y":4.6},{"x":0.295,"y":4.85},{"x":0.295,"y":5.1},{"x":0.325,"y":3.15},{"x":0.325,"y":3.4},{"x":0.325,"y":3.65},{"x":0.325,"y":3.9},{"x":0.325,"y":4.15},{"x":0.325,"y":4.4},{"x":0.325,"y":4.65},{"x":0.325,"y":4.9},{"x":0.355,"y":3.25},{"x":0.355,"y":3.5},{"x":0.355,"y":3.75},{"x":0.355,"y":4},{"x":0.355,"y":4.25},{"x":0.355,"y":4.5},{"x":0.355,"y":4.75},{"x":0.385,"y":3.3},{"x":0.385,"y":3.55},{"x":0.385,"y":3.8},{"x":0.385,"y":4.05},{"x":0.385,"y":4.3},{"x":0.385,"y":4.55},{"x":0.415,"y":3.35},{"x":0.415,"y":3.6},{"x":0.415,"y":3.85},{"x":0.415,"y":4.1},{"x":0.415,"y":4.35},{"x":0.445,"y":3.35},{"x":0.445,"y":3.6},{"x":0.445,"y":3.85},{"x":0.445,"y":4.1},{"x":0.445,"y":4.35},{"x":0.475,"y":3.45},{"x":0.475,"y":3.7},{"x":0.475,"y":3.95},{"x":0.475,"y":4.2},{"x":0.505,"y":3.45},{"x":0.505,"y":3.7},{"x":0.505,"y":3.95},{"x":0.505,"y":4.2},{"x":0.535,"y":3.5},{"x":0.535,"y":3.75},{"x":0.535,"y":4},{"x":0.535,"y":4.2},{"x":0.565,"y":3.55},{"x":0.565,"y":3.8},{"x":0.565,"y":4.05},{"x":0.595,"y":3.55},{"x":0.595,"y":3.8},{"x":0.595,"y":4.05},{"x":0.625,"y":3.6},{"x":0.625,"y":3.85},{"x":0.625,"y":4.1},{"x":0.655,"y":3.6},{"x":0.655,"y":3.85},{"x":0.655,"y":4.1},{"x":0.685,"y":3.65},{"x":0.685,"y":3.9},{"x":0.715,"y":3.7},{"x":0.715,"y":3.95},{"x":0.745,"y":3.65},{"x":0.745,"y":3.9},{"x":0.775,"y":3.6},{"x":0.775,"y":3.85},{"x":0.805,"y":3.65},{"x":0.805,"y":3.88},{"x":0.835,"y":3.7},{"x":0.865,"y":3.75},{"x":0.895,"y":3.8},
{"x":0.14,"y":5.7},{"x":0.19,"y":5.6},{"x":0.23,"y":5.7},{"x":0.27,"y":5.62},{"x":0.39,"y":5.2},{"x":0.41,"y":5.3},{"x":0.48,"y":5.2},{"x":0.55,"y":5.25},{"x":0.61,"y":4.8},{"x":0.56,"y":4.75},{"x":0.58,"y":4.72},{"x":0.73,"y":4.7},{"x":0.8,"y":5.23},{"x":0.85,"y":4.95},{"x":0.81,"y":4.6},{"x":0.84,"y":4.35},{"x":0.88,"y":4.35},{"x":0.98,"y":4.35},{"x":0.99,"y":5},{"x":1.01,"y":4.5},{"x":1.03,"y":4.35},{"x":1.05,"y":4.15},{"x":1.02,"y":4.1},{"x":1.05,"y":3.5},{"x":1.07,"y":3.85},{"x":1.12,"y":3.75},{"x":1.15,"y":3.95},{"x":1.14,"y":4},{"x":1.18,"y":3.8},{"x":1.21,"y":3.7},{"x":1.25,"y":3.75},{"x":1.27,"y":3.45},{"x":1.33,"y":4},{"x":1.34,"y":3.7},{"x":1.37,"y":4.68},{"x":1.36,"y":2.95},{"x":1.4,"y":3.32},{"x":1.43,"y":4.12},{"x":1.44,"y":2.43},{"x":1.49,"y":2.6},{"x":1.5,"y":3.45},{"x":1.53,"y":2.55},{"x":1.58,"y":3.45},{"x":1.6,"y":3.75},{"x":1.65,"y":3.05},{"x":1.69,"y":4.1},{"x":1.71,"y":3.25},{"x":1.88,"y":3.3},{"x":1.89,"y":2.47},{"x":1.98,"y":3.07},{"x":1.15,"y":2.6},{"x":1.1,"y":3.05},{"x":1.06,"y":2.75},{"x":1.03,"y":2.6},{"x":0.98,"y":2.7},{"x":0.95,"y":2.9},{"x":1.0,"y":3.25},{"x":1.03,"y":3.3},{"x":1.07,"y":3.2},{"x":1.18,"y":3.1},{"x":0.85,"y":3.05},{"x":0.76,"y":2.55},{"x":0.75,"y":3},{"x":0.61,"y":2.42},{"x":0.64,"y":2.45},{"x":0.46,"y":2.2},{"x":0.36,"y":2.05},{"x":0.28,"y":2.15},{"x":0.19,"y":2.05},{"x":0.19,"y":2.2},{"x":0.2,"y":2.45},{"x":0.14,"y":2.35},{"x":0.17,"y":2.6},{"x":0.23,"y":2.25},{"x":0.24,"y":2.55},{"x":0.25,"y":2.6},{"x":0.34,"y":2.85},{"x":0.39,"y":2.85},{"x":0.42,"y":2.85},{"x":0.45,"y":2.65},{"x":0.49,"y":3.1},{"x":0.53,"y":2.8},{"x":0.56,"y":3.1}]
},
"concat":[{"width":414,"height":165,"title":"Less than 25 % of BC wkr","layer":[
{"data":{"name":"p1"},"mark":{"type":"circle","size":32,"opacity":1},"encoding":{"x":{"field":"x","type":"quantitative","scale":{"domain":[-0.065,2.067],"nice":false,"zero":false},"axis":{"values":[0,0.5,1,1.5,2],"labelExpr":"datum.value==0.5?'.5':''+datum.value","title":"Conditional wage dispersion"}},"y":{"field":"y","type":"quantitative","scale":{"domain":[1.466,8.51],"nice":false,"zero":false},"axis":{"values":[2,4,6,8],"title":"productivity"}},"color":{"datum":"Fitted values","type":"nominal","scale":{"domain":["Fitted values","Quadratic prediction","linear prediction"],"range":["#1a476f","#222222","#ff0000"]},
"legend":{"title":null,"orient":"none","legendX":63,"legendY":551,"columns":2,"columnPadding":43,"rowPadding":8,"symbolSize":900,"labelOffset":82,"labelFontSize":26.7,"labelColor":"#111","labelLimit":400,"padding":12,"strokeColor":"#222","fillColor":"white",
"encoding":{"symbols":{"shape":{"value":{"expr":"datum.value=='Fitted values'?'M2.1,0A0.167,0.167,0,1,1,2.434,0A0.167,0.167,0,1,1,2.1,0Z':'M-1,0H5.67'"}},"fill":{"value":{"expr":"datum.value=='Fitted values'?'#1a476f':'transparent'"}},"stroke":{"value":{"expr":"datum.value=='Fitted values'?'#1a476f':datum.value=='linear prediction'?'#ff0000':'#222222'"}},"strokeWidth":{"value":3},"strokeDash":{"value":{"expr":"datum.value=='linear prediction'?[16,8]:[1,0]"}},"opacity":{"value":1}}}}}}},
{"data":{"name":"f1"},"mark":{"type":"line","strokeWidth":3},"encoding":{"x":{"field":"x","type":"quantitative"},"y":{"field":"y","type":"quantitative"},"order":{"field":"x"},"strokeDash":{"field":"s","type":"nominal","legend":null,"scale":{"domain":["linear prediction","Quadratic prediction"],"range":[[16,8],[1,0]]}},"color":{"field":"s","type":"nominal","legend":null}}}]},
{"width":414,"height":165,"title":"Between 25 and 50 % of BC wkr","layer":[{"data":{"name":"p2"},"mark":{"type":"circle","size":32,"opacity":1,"color":"#1a476f"},"encoding":{"x":{"field":"x","type":"quantitative","scale":{"domain":[-0.065,2.067],"nice":false},"axis":{"values":[0,0.5,1,1.5,2],"labelExpr":"datum.value==0.5?'.5':''+datum.value","title":"Conditional wage dispersion"}},"y":{"field":"y","type":"quantitative","scale":{"domain":[1.466,8.51],"nice":false},"axis":{"values":[2,4,6,8],"title":"productivity"}}}},
{"data":{"name":"f2"},"mark":{"type":"line","strokeWidth":3},"encoding":{"x":{"field":"x","type":"quantitative"},"y":{"field":"y","type":"quantitative"},"order":{"field":"x"},"strokeDash":{"field":"s","type":"nominal","legend":null,"scale":{"domain":["linear prediction","Quadratic prediction"],"range":[[16,8],[1,0]]}},"color":{"field":"s","type":"nominal","legend":null}}}]},
{"width":414,"height":165,"title":"Between 50 and 75 % of BC wkr","layer":[{"data":{"name":"p3"},"mark":{"type":"circle","size":32,"opacity":1,"color":"#1a476f"},"encoding":{"x":{"field":"x","type":"quantitative","scale":{"domain":[-0.065,2.067],"nice":false},"axis":{"values":[0,0.5,1,1.5,2],"labelExpr":"datum.value==0.5?'.5':''+datum.value","title":"Conditional wage dispersion"}},"y":{"field":"y","type":"quantitative","scale":{"domain":[1.466,8.51],"nice":false},"axis":{"values":[2,4,6,8],"title":"productivity"}}}},
{"data":{"name":"f3"},"mark":{"type":"line","strokeWidth":3},"encoding":{"x":{"field":"x","type":"quantitative"},"y":{"field":"y","type":"quantitative"},"order":{"field":"x"},"strokeDash":{"field":"s","type":"nominal","legend":null,"scale":{"domain":["linear prediction","Quadratic prediction"],"range":[[16,8],[1,0]]}},"color":{"field":"s","type":"nominal","legend":null}}}]},
{"width":414,"height":165,"title":"More than 75 % of BC wkr","layer":[{"data":{"name":"p4"},"mark":{"type":"circle","size":32,"opacity":1,"color":"#1a476f"},"encoding":{"x":{"field":"x","type":"quantitative","scale":{"domain":[-0.065,2.067],"nice":false},"axis":{"values":[0,0.5,1,1.5,2],"labelExpr":"datum.value==0.5?'.5':''+datum.value","title":"Conditional wage dispersion"}},"y":{"field":"y","type":"quantitative","scale":{"domain":[1.466,8.51],"nice":false},"axis":{"values":[2,4,6,8],"title":"productivity"}}}},
{"data":{"name":"f4"},"mark":{"type":"line","strokeWidth":3},"encoding":{"x":{"field":"x","type":"quantitative"},"y":{"field":"y","type":"quantitative"},"order":{"field":"x"},"strokeDash":{"field":"s","type":"nominal","legend":null,"scale":{"domain":["linear prediction","Quadratic prediction"],"range":[[16,8],[1,0]]}},"color":{"field":"s","type":"nominal","legend":null}}}]}]}
